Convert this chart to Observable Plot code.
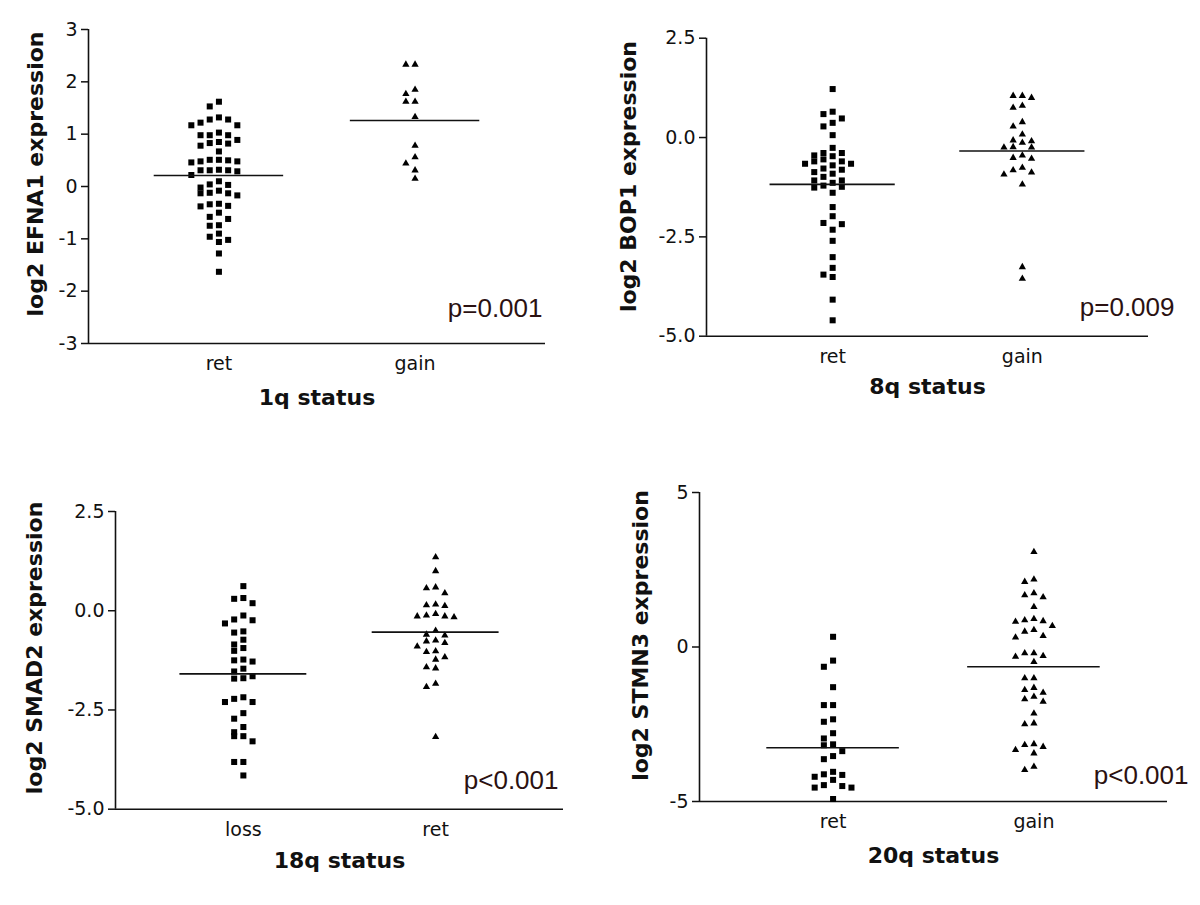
<!DOCTYPE html>
<html><head><meta charset="utf-8">
<script src="https://cdn.jsdelivr.net/npm/d3@7"></script>
<script src="https://cdn.jsdelivr.net/npm/@observablehq/plot@0.6"></script>
<style>
body{margin:0;background:#fff;}
#fig{position:relative;width:1200px;height:905px;background:#fff;overflow:hidden;}
.panel{position:absolute;}
</style></head><body><div id="fig"></div>
<script>
// ---------- data ----------
const efna1Ret = [1.62,1.53,1.32,1.28,1.17,1.17,1.22,1.28,1.03,0.98,0.98,0.98,0.82,0.78,0.89,0.83,0.85,0.67,0.51,0.48,0.46,0.48,0.50,0.51,0.32,0.31,0.29,0.22,0.31,0.31,0.10,0.03,0.04,-0.02,-0.12,-0.13,-0.17,-0.13,-0.08,-0.33,-0.37,-0.38,-0.34,-0.50,-0.58,-0.62,-0.74,-0.75,-0.96,-1.06,-1.02,-0.90,-1.28,-1.63];
const efna1Gain = [2.33,2.33,1.85,1.77,1.62,1.62,1.33,0.78,0.56,0.44,0.31,0.15];
const bop1Ret = [1.22,0.59,0.65,0.48,0.28,0.37,0.06,-0.26,-0.39,-0.39,-0.45,-0.47,-0.60,-0.66,-0.66,-0.60,-0.55,-0.70,-0.78,-0.91,-0.87,-0.81,-0.99,-1.08,-1.08,-1.24,-1.14,-1.26,-1.21,-1.39,-1.75,-1.98,-2.18,-2.15,-2.32,-2.60,-3.01,-3.28,-3.51,-3.45,-4.08,-4.60];
const bop1Gain = [1.05,1.00,1.05,0.75,0.80,0.39,0.28,0.08,-0.07,-0.13,-0.09,-0.25,-0.25,-0.24,-0.45,-0.53,-0.51,-0.76,-0.88,-0.93,-0.82,-1.18,-3.26,-3.55];
const smad2Loss = [0.62,0.32,0.19,0.30,-0.22,-0.32,-0.24,-0.12,-0.55,-0.52,-0.73,-0.85,-0.94,-1.01,-1.28,-1.23,-1.25,-1.46,-1.53,-1.65,-1.71,-1.70,-2.18,-2.30,-2.30,-2.22,-2.58,-2.72,-2.93,-3.16,-3.06,-3.29,-3.16,-3.81,-3.81,-4.15];
const smad2Ret = [1.35,1.00,0.59,0.57,0.44,0.14,0.12,0.16,-0.08,-0.14,-0.16,-0.14,-0.12,-0.50,-0.62,-0.60,-0.75,-0.81,-0.77,-0.90,-1.02,-1.04,-1.17,-1.23,-1.45,-1.42,-1.84,-1.92,-3.18];
const stmn3Ret = [0.33,-0.44,-0.64,-1.30,-1.88,-1.88,-2.42,-2.34,-2.79,-2.96,-3.15,-3.18,-3.37,-3.53,-3.63,-4.12,-4.20,-4.14,-4.04,-4.47,-4.55,-4.55,-4.50,-4.30,-4.92];
const stmn3Gain = [3.08,2.11,2.19,1.74,1.68,1.61,1.30,0.87,0.82,0.68,0.84,0.91,0.50,0.31,0.36,0.55,-0.20,-0.31,-0.48,-0.29,-0.20,-1.01,-1.01,-1.32,-1.39,-1.61,-1.77,-1.69,-1.48,-2.15,-2.50,-2.47,-3.17,-3.33,-3.44,-3.23,-3.14,-3.98,-3.87];

// group mean lines
const efna1Means = [0.21, 1.26];
const bop1Means = [-1.18, -0.34];
const smad2Means = [-1.59, -0.54];
const stmn3Means = [-3.26, -0.64];

const cats1 = ["ret", "gain"];
const cats2 = ["ret", "gain"];
const cats3 = ["loss", "ret"];
const cats4 = ["ret", "gain"];
const yTitles = ["log2 EFNA1 expression", "log2 BOP1 expression", "log2 SMAD2 expression", "log2 STMN3 expression"];
const xTitles = ["1q status", "8q status", "18q status", "20q status"];
const pValues = ["p=0.001", "p=0.009", "p<0.001", "p<0.001"];
const yTicks1 = [-3, -2, -1, 0, 1, 2, 3];
const yTicks2 = [-5, -2.5, 0, 2.5];
const yTicks3 = [-5, -2.5, 0, 2.5];
const yTicks4 = [-5, 0, 5];

// ---------- layout (pixels) ----------
const layout = [
  {ox: 0,   oy: 0,   h: 440, left: 88,  right: 545, top: 29,   bottom: 343,   tdx: -53,  tdy: -12.5, xdy: 54, pdx: -3, pdy: -35},
  {ox: 600, oy: 0,   h: 440, left: 106, right: 548, top: 37.7, bottom: 335.7, tdx: -78,  tdy: -10.7, xdy: 51, pdx: 26, pdy: -29},
  {ox: 0,   oy: 440, h: 465, left: 115, right: 563, top: 71,   bottom: 368.7, tdx: -80.5,tdy: -12.4, xdy: 52, pdx: -5, pdy: -29},
  {ox: 600, oy: 440, h: 465, left: 99,  right: 567, top: 52,   bottom: 361,   tdx: -58.5,tdy: -11.5, xdy: 54, pdx: 21, pdy: -26}
];

const panels = [
  {groups: [efna1Ret, efna1Gain], means: efna1Means, cats: cats1, yDomain: [-3, 3],   yTicks: yTicks1, fmt: d => String(d)},
  {groups: [bop1Ret, bop1Gain],   means: bop1Means,  cats: cats2, yDomain: [-5, 2.5], yTicks: yTicks2, fmt: d => d.toFixed(1)},
  {groups: [smad2Loss, smad2Ret], means: smad2Means, cats: cats3, yDomain: [-5, 2.5], yTicks: yTicks3, fmt: d => d.toFixed(1)},
  {groups: [stmn3Ret, stmn3Gain], means: stmn3Means, cats: cats4, yDomain: [-5, 5],   yTicks: yTicks4, fmt: d => String(d)}
];

const symbols = ["square", "triangle"];
const radii = [3.4, 2.7];
const X0 = -0.665, X1 = 1.665;   // category 0 at 0, category 1 at 1
const HALF = 0.33;               // half-width of mean line
const COLPX = 9.2, ROWPX = 8;
const FONT = "'DejaVu Sans', Verdana, sans-serif";

// column-scatter layout (Prism style): rows of nearby values spread into columns
function swarm(values, ci, pxPerY, colUnits) {
  const sorted = values.slice().sort((a, b) => b - a);
  const out = [];
  let g = [];
  const flush = () => {
    g.forEach((v, k) => {
      const col = k === 0 ? 0 : (k % 2 ? -Math.ceil(k / 2) : k / 2);
      out.push({x: ci + col * colUnits, y: v, ci});
    });
    g = [];
  };
  for (const v of sorted) {
    if (g.length && (g[0] - v) * pxPerY > ROWPX) flush();
    g.push(v);
  }
  flush();
  return out;
}

const fig = document.getElementById("fig");
panels.forEach((p, i) => {
  const L = layout[i];
  const W = 600;
  const unitPx = (L.right - L.left) / (X1 - X0);
  const pxPerY = (L.bottom - L.top) / (p.yDomain[1] - p.yDomain[0]);
  const colUnits = COLPX / unitPx;
  const pts = p.groups.flatMap((vals, ci) => swarm(vals, ci, pxPerY, colUnits));
  const means = p.means.map((m, ci) => ({ci, mean: m}));
  const chart = Plot.plot({
    width: W, height: L.h,
    marginLeft: L.left, marginRight: W - L.right, marginTop: L.top, marginBottom: L.h - L.bottom,
    style: {fontFamily: FONT, fontSize: "19px", color: "#111", background: "transparent", overflow: "visible"},
    x: {domain: [X0, X1], axis: null},
    y: {domain: p.yDomain, axis: null},
    marks: [
      Plot.axisY({ticks: p.yTicks, tickFormat: p.fmt, tickSize: 7, tickPadding: 4, strokeWidth: 1.5, label: null}),
      Plot.axisX({ticks: [0, 1], tickFormat: k => p.cats[k], tickSize: 0, tickPadding: 13, label: null}),
      Plot.ruleX([X0], {strokeWidth: 1.6}),
      Plot.ruleY([p.yDomain[0]], {strokeWidth: 1.6}),
      Plot.dot(pts.filter(d => d.ci === 0), {x: "x", y: "y", symbol: symbols[0], r: radii[0], fill: "#000", stroke: "none"}),
      Plot.dot(pts.filter(d => d.ci === 1), {x: "x", y: "y", symbol: symbols[1], r: radii[1], fill: "#000", stroke: "none"}),
      Plot.ruleY(means, {y: "mean", x1: d => d.ci - HALF, x2: d => d.ci + HALF, strokeWidth: 1.6}),
      Plot.text([yTitles[i]], {text: d => d, frameAnchor: "left", textAnchor: "middle", lineAnchor: "middle", rotate: -90, dx: L.tdx, dy: L.tdy, fontWeight: "bold", fontSize: 22, fill: "#111"}),
      Plot.text([xTitles[i]], {text: d => d, frameAnchor: "bottom", textAnchor: "middle", lineAnchor: "middle", dy: L.xdy, fontWeight: "bold", fontSize: 22, fill: "#111"}),
      Plot.text([pValues[i]], {text: d => d, frameAnchor: "bottom-right", textAnchor: "end", lineAnchor: "middle", dx: L.pdx, dy: L.pdy, fontSize: 26, fontFamily: "'Liberation Sans', Arial, sans-serif", fill: "#2b1111"})
    ]
  });
  chart.classList.add("panel");
  chart.style.left = L.ox + "px";
  chart.style.top = L.oy + "px";
  fig.appendChild(chart);
});
</script>
</body></html>
